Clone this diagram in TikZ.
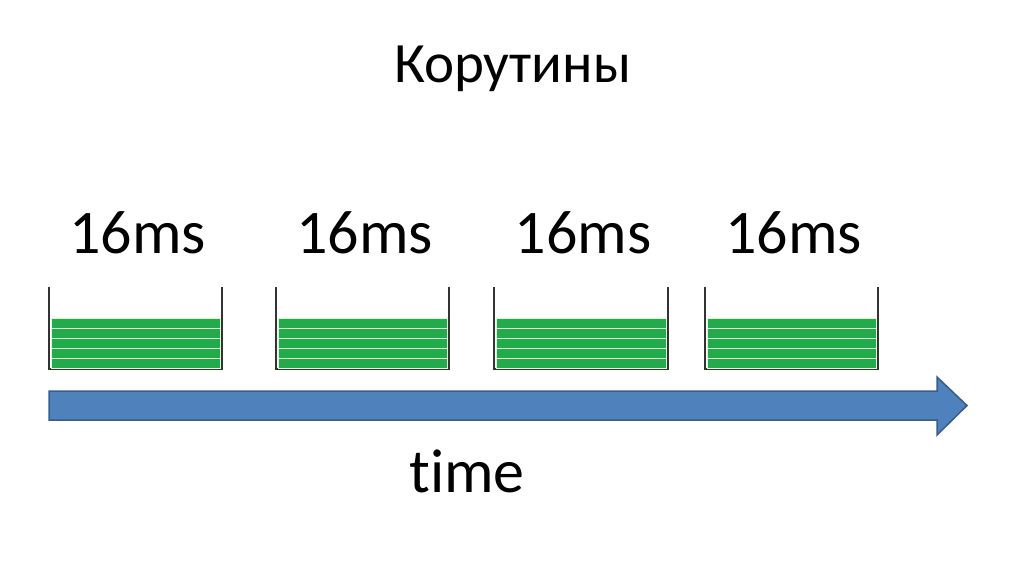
\documentclass[tikz,border=0pt]{standalone}
\usepackage{fontspec}
\setmainfont{Carlito}[Ligatures=NoCommon]
\usetikzlibrary{positioning}

\definecolor{stripegreen}{RGB}{35,170,75}
\definecolor{arrowblue}{RGB}{79,129,189}
\definecolor{arrowedge}{RGB}{56,93,138}

\begin{document}
\begin{tikzpicture}
[x=1pt,y=-1pt,every node/.style={inner sep=0pt},
 caption/.style={anchor=base,font=\fontsize{62}{74}\selectfont},
 stripe/.style={fill=stripegreen,draw=green!15,line width=0.6pt},
 box/.style={draw=black!80,line width=1.5pt}]

\useasboundingbox (0,0) rectangle (1024,574);

\node[anchor=base,font=\fontsize{57}{68}\selectfont] (title) at (512.5,82) {Корутины};

\foreach \name/\lx/\rx in {a/49/222,b/276/449,c/494/668,d/705/878}{
  \node[caption] (\name) at ({(\lx+\rx)/2+2},253) {16ms};
  \draw[box] (\lx,287) -- (\lx,369) -- (\rx,369) -- (\rx,287);
  \foreach \y in {318,328,...,358}
    \draw[stripe] ({\lx+2},\y) rectangle ({\rx-2},{\y+10});
}

% time axis
\draw[fill=arrowblue,draw=arrowedge,line width=1.5pt] (49,391) -- (937,391) -- (937,377)
  -- (967,405.5) -- (937,435) -- (937,420) -- (49,420) -- cycle;

\node[caption] (time) at (467,492) {time};

\end{tikzpicture}
\end{document}
